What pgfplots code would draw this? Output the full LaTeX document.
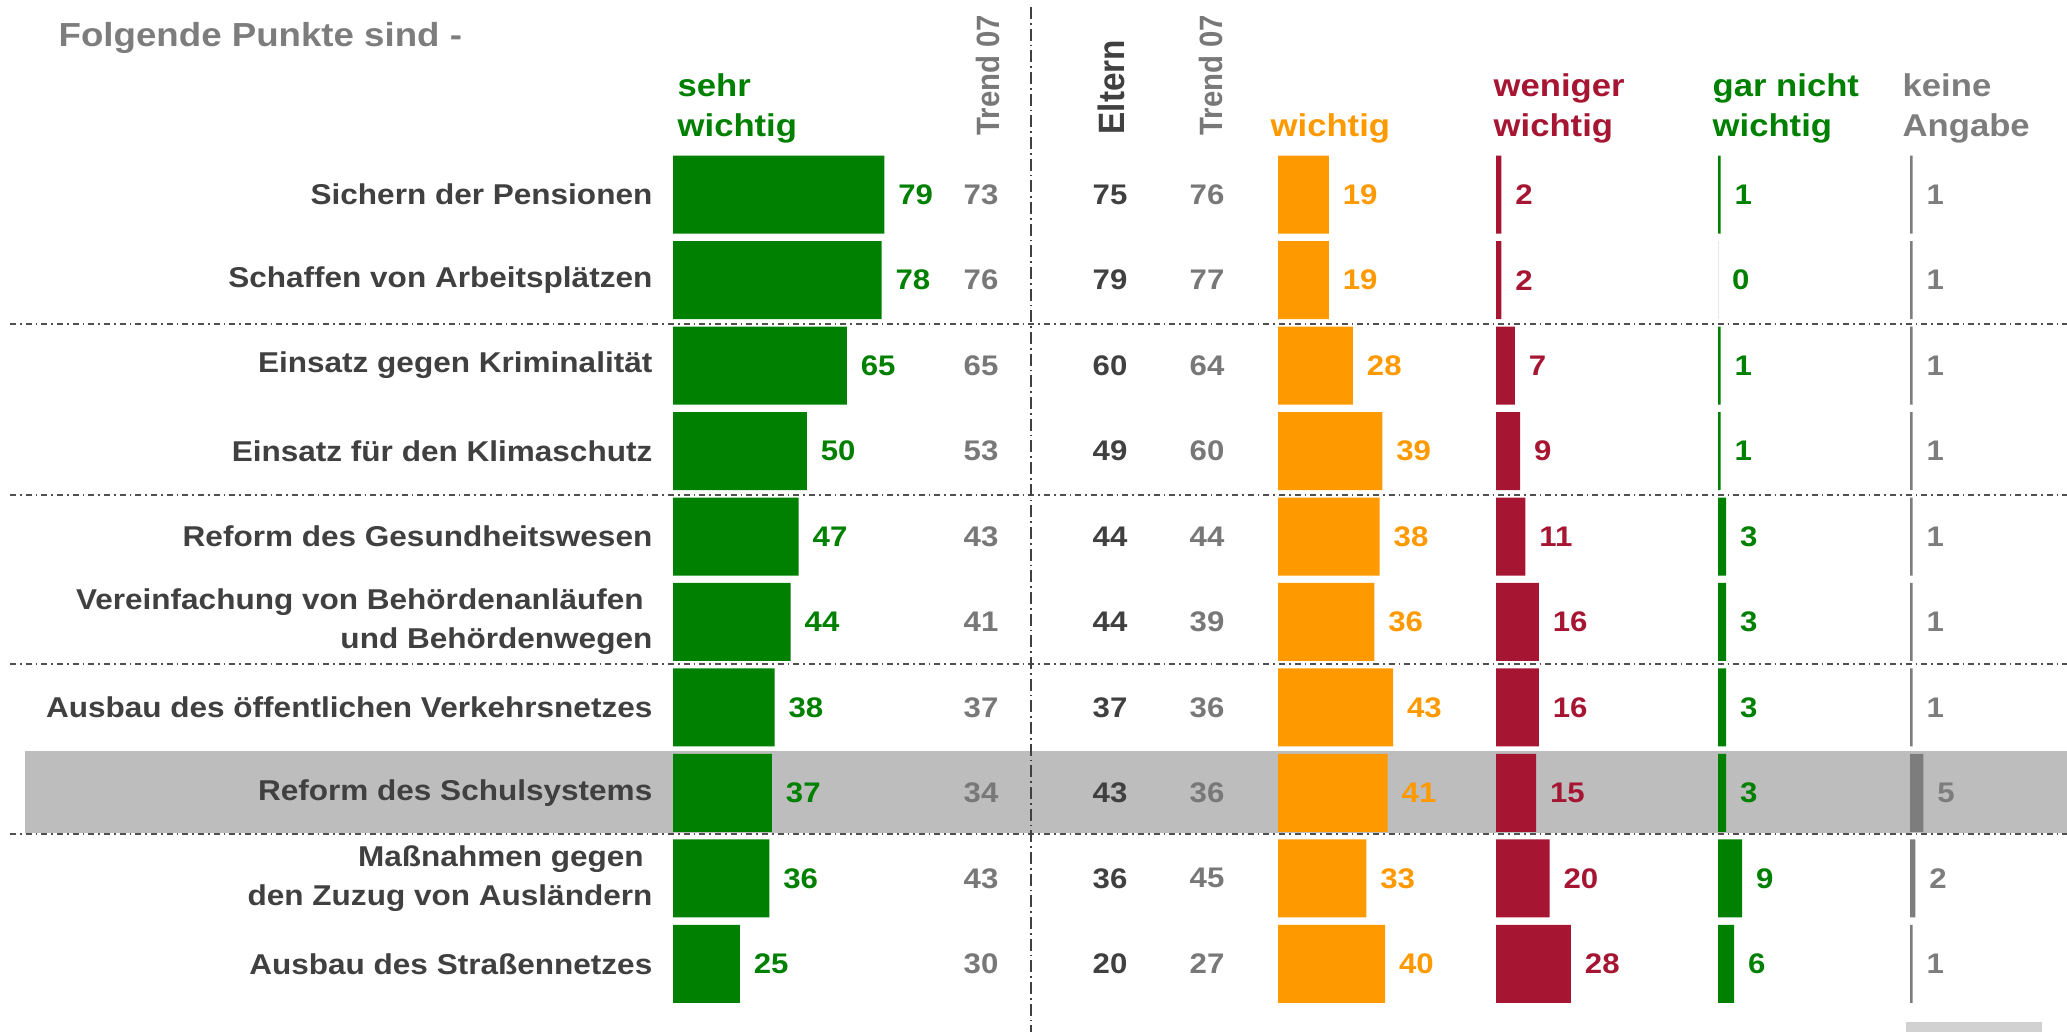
\documentclass[border=0pt]{standalone}
\usepackage{fontspec}
\setmainfont{Liberation Sans}[FakeStretch=1.1]
\newfontfamily\rotfont{Liberation Sans}
\usepackage{pgfplots}
\usepackage{pgfplotstable}
\pgfplotsset{compat=1.18}

\definecolor{cgreen}{RGB}{0,128,0}
\definecolor{corange}{RGB}{255,153,0}
\definecolor{cred}{RGB}{166,22,50}
\definecolor{cgray}{RGB}{125,125,125}
\definecolor{ctrend}{RGB}{120,120,120}
\definecolor{cdark}{RGB}{64,64,64}
\definecolor{cband}{RGB}{189,189,189}
\definecolor{cline}{RGB}{80,80,80}

% Zeilen: sehr / Trend 07 / Eltern / Trend 07 / wichtig / weniger / gar nicht / keine Angabe
\pgfplotstableread{
row sehr trendA eltern trendB wichtig weniger garnicht keine
1  79 73 75 76 19  2 1 1
2  78 76 79 77 19  2 0 1
3  65 65 60 64 28  7 1 1
4  50 53 49 60 39  9 1 1
5  47 43 44 44 38 11 3 1
6  44 41 44 39 36 16 3 1
7  38 37 37 36 43 16 3 1
8  37 34 43 36 41 15 3 5
9  36 43 36 45 33 20 9 2
10 25 30 20 27 40 28 6 1
}\umfrage

\newcommand{\valfont}{\fontsize{8.5}{10}\selectfont\bfseries}
\tikzset{
  hdr/.style={anchor=base west, inner sep=0pt, font=\fontsize{9.45}{11}\selectfont\bfseries},
  rothdr/.style={xscale=1.1, rotate=90, anchor=west, inner sep=0pt},
}

% one axis per bar column, 1 px = 0.3pt, 2.675 px per percent
\pgfplotsset{
  colbar/.style={
    at={(#1*0.3pt,276.83pt)}, anchor=north west,
    scale only axis, x=0.8025pt, y=25.638pt,
    xmin=0, xmax=40, ymin=0, ymax=11, y dir=reverse,
    enlargelimits=false, clip=false,
    axis line style={draw=none}, tick style={draw=none}, major tick length=0pt,
    xtick=\empty, ytick=\empty,
    xbar, bar width=23.4pt,
    nodes near coords, point meta=explicit symbolic,
    every node near coord/.append style={anchor=west, inner sep=0pt, xshift=4pt, font=\valfont},
  },
  numcol/.style={draw=none, mark=none, nodes near coords, point meta=explicit symbolic,
    every node near coord/.append style={anchor=center, inner sep=0pt, font=\valfont, text=#1}},
}

\begin{document}
\begin{tikzpicture}

\begin{axis}[
  at={(0,0)}, anchor=south west, scale only axis,
  x=0.3pt, y=0.3pt, xmin=0, xmax=2067, ymin=0, ymax=1032, y dir=reverse,
  hide axis, clip=false,
]
\fill[cband] (axis cs:25,751) rectangle (axis cs:2067,833);
\fill[black!18] (axis cs:1906,1022) rectangle (axis cs:2042,1032);

\draw[cline, line width=0.6pt, dash pattern=on 1.8pt off 1.2pt on 0.5pt off 1.2pt] (axis cs:10,324) -- (axis cs:2067,324);
\draw[cline, line width=0.6pt, dash pattern=on 1.8pt off 1.2pt on 0.5pt off 1.2pt] (axis cs:10,495) -- (axis cs:2067,495);
\draw[cline, line width=0.6pt, dash pattern=on 1.8pt off 1.2pt on 0.5pt off 1.2pt] (axis cs:10,664) -- (axis cs:2067,664);
\draw[cline, line width=0.6pt, dash pattern=on 1.8pt off 1.2pt on 0.5pt off 1.2pt] (axis cs:10,834) -- (axis cs:2067,834);
\draw[cdark, line width=0.6pt, dash pattern=on 3.6pt off 1.2pt on 0.5pt off 1.2pt] (axis cs:1031,7) -- (axis cs:1031,1032);

\node[anchor=base west, inner sep=0pt, font=\fontsize{10}{12}\selectfont\bfseries, text=cgray] at (axis cs:58,47) {Folgende Punkte sind -};

\node[hdr, text=cgreen] at (axis cs:677,97) {sehr};
\node[hdr, text=cgreen] at (axis cs:677,137) {wichtig};
\node[hdr, text=corange] at (axis cs:1270,137) {wichtig};
\node[hdr, text=cred] at (axis cs:1493,97) {weniger};
\node[hdr, text=cred] at (axis cs:1493,137) {wichtig};
\node[hdr, text=cgreen] at (axis cs:1712,97) {gar nicht};
\node[hdr, text=cgreen] at (axis cs:1712,137) {wichtig};
\node[hdr, text=cgray] at (axis cs:1902,97) {keine};
\node[hdr, text=cgray] at (axis cs:1902,137) {Angabe};

\node[rothdr, font=\rotfont\fontsize{8.8}{10}\selectfont\bfseries, text=ctrend] at (axis cs:988,136) {Trend 07};
\node[rothdr, font=\rotfont\fontsize{10}{12}\selectfont\bfseries, text=cdark] at (axis cs:1111,135) {Eltern};
\node[rothdr, font=\rotfont\fontsize{8.8}{10}\selectfont\bfseries, text=ctrend] at (axis cs:1211,136) {Trend 07};

\addplot[numcol=ctrend] table[x expr=981, y expr={194.7+(\thisrow{row}-1)*85.46}, meta=trendA] {\umfrage};
\addplot[numcol=cdark] table[x expr=1110, y expr={194.7+(\thisrow{row}-1)*85.46}, meta=eltern] {\umfrage};
\addplot[numcol=ctrend] table[x expr=1207, y expr={194.7+(\thisrow{row}-1)*85.46}, meta=trendB] {\umfrage};
\end{axis}

% sehr wichtig, with the row labels
\begin{axis}[colbar=673,
  ytick={1,...,10},
  yticklabels={Sichern der Pensionen, Schaffen von Arbeitsplätzen, Einsatz gegen Kriminalität,
    Einsatz für den Klimaschutz, Reform des Gesundheitswesen,
    {Vereinfachung von Behördenanläufen\hspace*{0.3em}\\und Behördenwegen},
    Ausbau des öffentlichen Verkehrsnetzes, Reform des Schulsystems,
    {Maßnahmen gegen\hspace*{0.3em}\\den Zuzug von Ausländern}, Ausbau des Straßennetzes},
  yticklabel style={anchor=east, inner sep=0pt, xshift=-6pt, align=right,
    font=\fontsize{8.6}{11.7}\selectfont\bfseries, text=cdark},
]
\addplot[fill=cgreen, draw=none, every node near coord/.append style={text=cgreen}]
  table[x=sehr, y=row, meta=sehr] {\umfrage};
\end{axis}

\begin{axis}[colbar=1278]
\addplot[fill=corange, draw=none, every node near coord/.append style={text=corange}]
  table[x=wichtig, y=row, meta=wichtig] {\umfrage};
\end{axis}

\begin{axis}[colbar=1496]
\addplot[fill=cred, draw=none, every node near coord/.append style={text=cred}]
  table[x=weniger, y=row, meta=weniger] {\umfrage};
\end{axis}

\begin{axis}[colbar=1718]
\addplot[fill=cgreen, draw=none, every node near coord/.append style={text=cgreen}]
  table[x=garnicht, y=row, meta=garnicht] {\umfrage};
\end{axis}

\begin{axis}[colbar=1910]
\addplot[fill=cgray, draw=none, every node near coord/.append style={text=cgray}]
  table[x=keine, y=row, meta=keine] {\umfrage};
\end{axis}

\pgfresetboundingbox
\useasboundingbox (0,0) rectangle (620.1pt,309.6pt);
\end{tikzpicture}
\end{document}
